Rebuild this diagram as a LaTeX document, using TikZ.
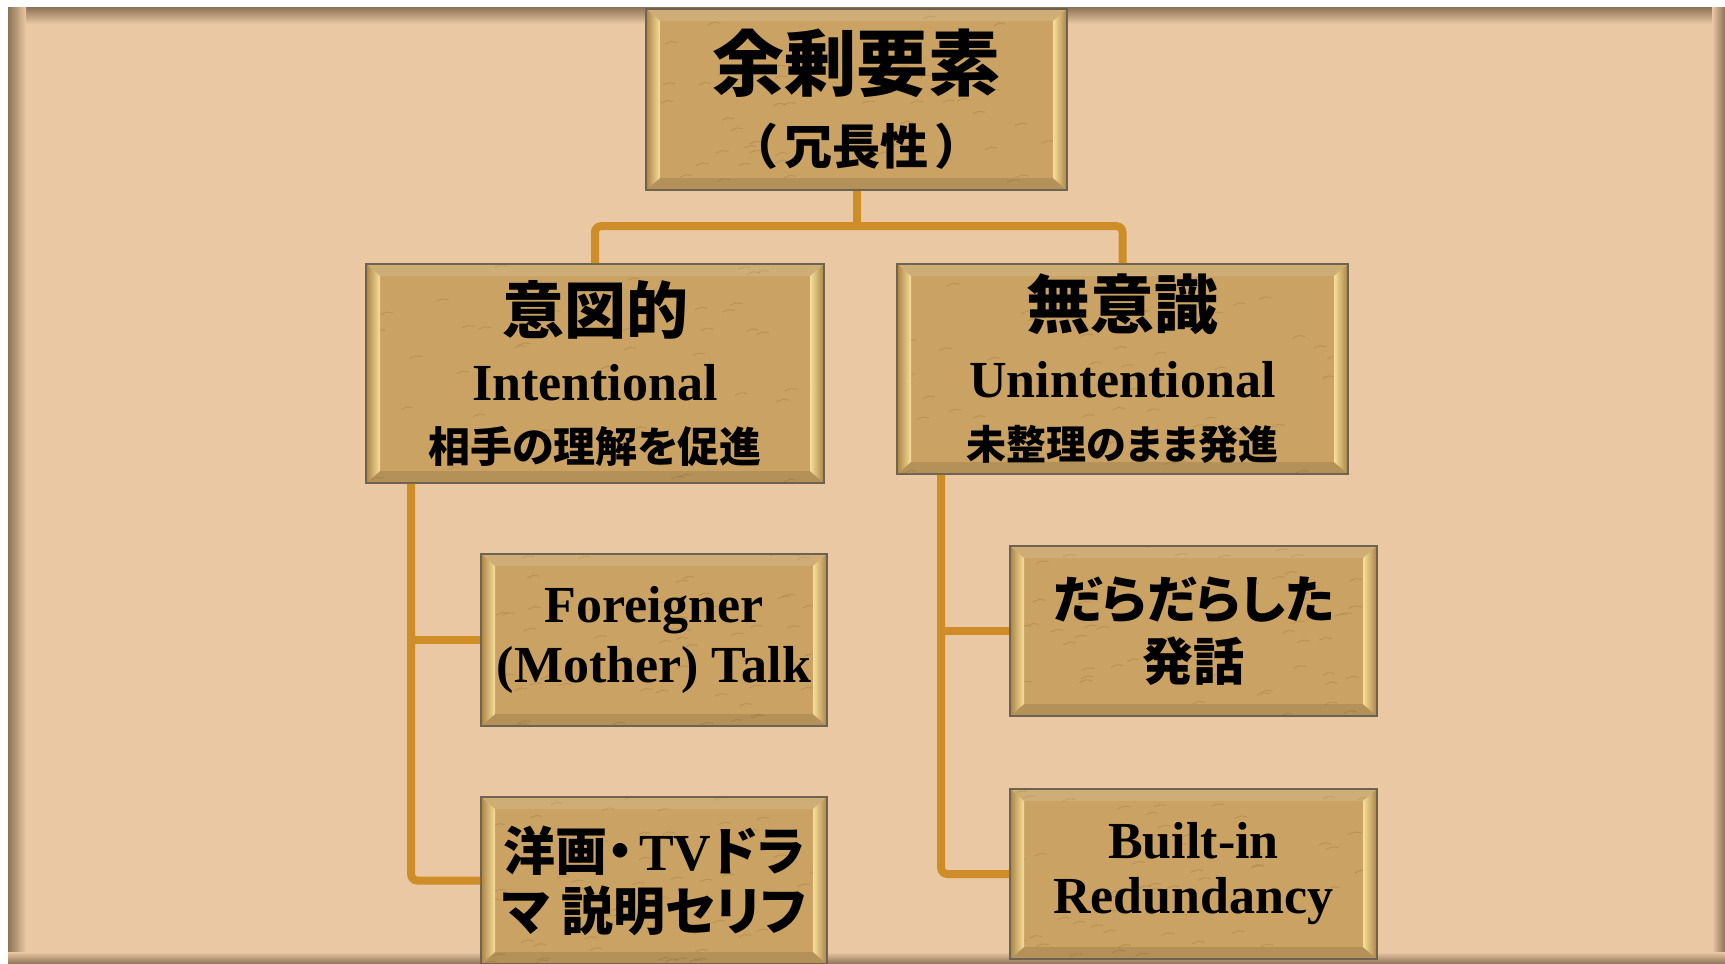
\documentclass[tikz,border=0pt]{standalone}
\usepackage{fontspec}
\setmainfont{Liberation Serif}
\newfontfamily\jp{Noto Sans CJK JP}[RawFeature=+palt]
\newfontfamily\jpfull{Noto Sans CJK JP}
\usetikzlibrary{positioning,calc}

\definecolor{pagebg}{HTML}{EAC8A3}
\definecolor{frameshade}{HTML}{8C7257}
\definecolor{boxfill}{HTML}{C9A264}
\definecolor{boxedge}{HTML}{6E6350}
\definecolor{bevellight}{HTML}{F7DE9C}
\definecolor{beveldark}{HTML}{A98443}
\definecolor{linkgold}{HTML}{CF8D27}

\pgfmathsetseed{11}

\begin{document}
\begin{tikzpicture}[
  x=0.5pt, y=-0.5pt,
  grain/.style={draw=beveldark, line width=0.5pt, opacity=0.45, line cap=round},
  box/.style={draw=boxedge, line width=0.8pt, fill=boxfill, align=center, inner sep=2pt,
    path picture={
      \coordinate (nw) at (path picture bounding box.north west);
      \coordinate (ne) at (path picture bounding box.north east);
      \coordinate (sw) at (path picture bounding box.south west);
      \coordinate (se) at (path picture bounding box.south east);
      % scratches
      \foreach \i in {1,...,55}{
        \pgfmathsetmacro\tx{rnd}\pgfmathsetmacro\ty{rnd}
        \coordinate (gx) at ($(sw)!\tx!(se)$);
        \coordinate (gy) at ($(sw)!\ty!(nw)$);
        \draw[grain] (gx |- gy) -- ++(3pt,1.2pt) -- ++(3pt,-0.4pt);
      }
      % bevel
      \fill[white, opacity=0.12] (nw) -- ++(7pt,-6pt) -- ($(ne)+(-7pt,-6pt)$) -- (ne) -- cycle;
      \fill[black, opacity=0.10] (sw) -- ++(7pt,6pt) -- ($(se)+(-7pt,6pt)$) -- (se) -- cycle;
      \shade[left color=beveldark, right color=bevellight]
        (nw) -- ++(7pt,-6pt) -- ($(sw)+(7pt,6pt)$) -- (sw) -- cycle;
      \shade[left color=bevellight, right color=beveldark]
        (ne) -- ++(-7pt,-6pt) -- ($(se)+(-7pt,6pt)$) -- (se) -- cycle;
    }},
  link/.style={draw=linkgold, line width=4pt, rounded corners=3pt}
]
\useasboundingbox (0,0) rectangle (1725,964);

% slide background with inner shadow
\fill[pagebg] (8,7) rectangle (1725,964);
\shade[top color=frameshade, bottom color=pagebg] (8,7) rectangle (1725,24);
\shade[left color=frameshade, right color=pagebg] (8,7) rectangle (26,964);
\shade[left color=pagebg, right color=frameshade] (1712,7) rectangle (1725,964);
\shade[top color=pagebg, bottom color=frameshade] (8,952) rectangle (1725,964);

% boxes
\node[box, minimum width=210.5pt, minimum height=90.5pt,
  font=\bfseries\fontsize{24}{37}\selectfont] (top) at (856.5,99.5)
  {{\jp\fontsize{36}{36}\selectfont 余剰要素}\\{\jpfull （\kern3pt 冗長性\kern3pt ）}};

\node[box, minimum width=229pt, minimum height=109.5pt,
  font=\bfseries\fontsize{26}{33.5}\selectfont] (intl) at (595,373.5)
  {{\jp\fontsize{31}{31}\selectfont 意図的}\\Intentional\\[-2.5pt]{\jp\fontsize{21}{21}\selectfont 相手の理解を促進}};

\node[box, minimum width=225.5pt, minimum height=105pt,
  font=\bfseries\fontsize{26}{34.5}\selectfont] (unint) at (1122.5,369)
  {{\jp\fontsize{32}{32}\selectfont 無意識}\\Unintentional\\[-3.5pt]{\jp\fontsize{20}{20}\selectfont 未整理のまま発進}};

\node[box, minimum width=173pt, minimum height=86pt,
  font=\bfseries\fontsize{26}{30}\selectfont] (frn) at (654,640)
  {Foreigner\\(Mother) Talk};

\node[box, minimum width=173pt, minimum height=83.5pt,
  font=\bfseries\fontsize{26}{30}\selectfont] (yoga) at (654,880.5)
  {{\jp 洋画・}\kern3pt TV{\jp ドラ}\\{\jp マ 説明セリフ}};

\node[box, minimum width=183.5pt, minimum height=85pt,
  font=\bfseries\fontsize{25.5}{31}\selectfont] (dara) at (1193.5,631)
  {{\jp だらだらした}\\{\jp 発話}};

\node[box, minimum width=183.5pt, minimum height=85pt,
  font=\bfseries\fontsize{26}{27.5}\selectfont] (built) at (1193.5,874)
  {Built-in\\Redundancy};

% connectors
\coordinate (lspine) at ([xshift=23pt]intl.south west);
\coordinate (rspine) at ([xshift=22.5pt]unint.south west);
\draw[link] (top.south) -- ++(0,37);
\draw[link] (intl.north) -- ++(0,-37) -| (unint.north);
\draw[link] (lspine) |- (yoga.west);
\draw[link] (frn.west) -- (frn.west -| lspine);
\draw[link] (rspine) |- (built.west);
\draw[link] (dara.west) -- (dara.west -| rspine);
\end{tikzpicture}
\end{document}
